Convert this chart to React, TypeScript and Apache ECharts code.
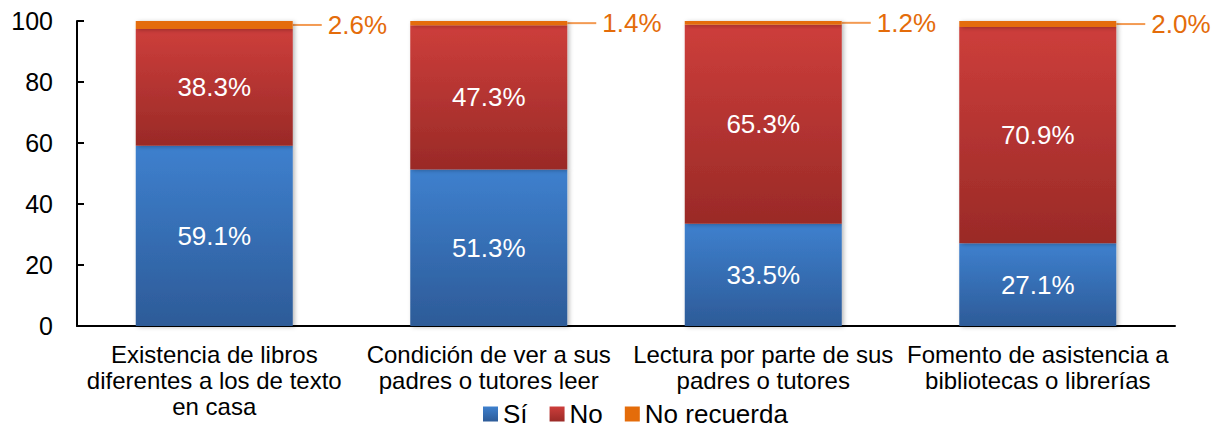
import React, { useEffect, useRef } from "react";
import * as echarts from "echarts";

const categories = [
  "Existencia de libros\ndiferentes a los de texto\nen casa",
  "Condición de ver a sus\npadres o tutores leer",
  "Lectura por parte de sus\npadres o tutores",
  "Fomento de asistencia a\nbibliotecas o librerías",
];
const seriesNames = ["Sí", "No", "No recuerda"];
const siValues = [59.1, 51.3, 33.5, 27.1];
const noValues = [38.3, 47.3, 65.3, 70.9];
const noRecuerdaValues = [2.6, 1.4, 1.2, 2.0];
const yMin = 0;
const yMax = 100;
const yInterval = 20;

const FONT = "'Liberation Sans', Arial, sans-serif";

const grad = (top: string, bottom: string) =>
  new echarts.graphic.LinearGradient(0, 0, 0, 1, [
    { offset: 0, color: top },
    { offset: 1, color: bottom },
  ]);

const fmt = (p: any) => Number(p.value).toFixed(1) + "%";

export default function App() {
  const ref = useRef<HTMLDivElement>(null);
  useEffect(() => {
    document.body.style.margin = "0";
    if (!ref.current) return;
    const chart = echarts.init(ref.current, null, { renderer: "svg" });
    const shadow = {
      shadowColor: "rgba(0,0,0,0.28)",
      shadowBlur: 4,
      shadowOffsetX: 2,
      shadowOffsetY: 1,
    };
    const insideLabel = {
      show: true,
      position: "inside",
      color: "#ffffff",
      fontSize: 26,
      fontFamily: FONT,
      formatter: fmt,
    };
    chart.setOption({
      animation: false,
      textStyle: { fontFamily: FONT },
      grid: { left: 77, right: 42, top: 21, bottom: 102, containLabel: false },
      legend: {
        data: seriesNames,
        left: 483,
        top: 401,
        padding: 0,
        itemWidth: 15,
        itemHeight: 15,
        itemGap: 22,
        icon: "rect",
        textStyle: { fontSize: 26, color: "#000", fontFamily: FONT },
      },
      xAxis: {
        type: "category",
        data: categories,
        axisLine: { show: true, lineStyle: { color: "#000", width: 2 } },
        axisTick: { show: false },
        axisLabel: {
          color: "#000",
          fontSize: 24,
          lineHeight: 26,
          fontFamily: FONT,
          margin: 15,
          interval: 0,
        },
      },
      yAxis: {
        type: "value",
        min: yMin,
        max: yMax,
        interval: yInterval,
        splitLine: { show: false },
        axisLine: { show: true, lineStyle: { color: "#000", width: 2 } },
        axisTick: { show: true, inside: true, length: 7, lineStyle: { color: "#000", width: 2 } },
        axisLabel: { color: "#000", fontSize: 25, fontFamily: FONT, margin: 24 },
      },
      series: [
        {
          name: seriesNames[0],
          type: "bar",
          stack: "total",
          barWidth: 157,
          data: siValues,
          itemStyle: { color: grad("#3e80ce", "#2d5b98"), ...shadow },
          label: insideLabel,
        },
        {
          name: seriesNames[1],
          type: "bar",
          stack: "total",
          barWidth: 157,
          data: noValues,
          itemStyle: { color: grad("#cd3e3b", "#9a2a27"), ...shadow },
          label: insideLabel,
        },
        {
          name: seriesNames[2],
          type: "bar",
          stack: "total",
          barWidth: 157,
          data: noRecuerdaValues,
          itemStyle: { color: "#e46c0a", ...shadow },
          label: {
            show: true,
            position: "right",
            distance: 0,
            color: "#e46c0a",
            fontSize: 26,
            fontFamily: FONT,
            formatter: (p: any) => "{gap|}{v|" + fmt(p) + "}",
            rich: {
              gap: { width: 6 },
              v: { color: "#e46c0a", fontSize: 26, fontFamily: FONT },
            },
          },
          labelLayout: { dx: 29 },
          labelLine: { show: true, lineStyle: { color: "#f39a52", width: 2 } },
        },
      ],
    });
    return () => chart.dispose();
  }, []);
  return <div ref={ref} style={{ width: 1217, height: 428 }} />;
}
